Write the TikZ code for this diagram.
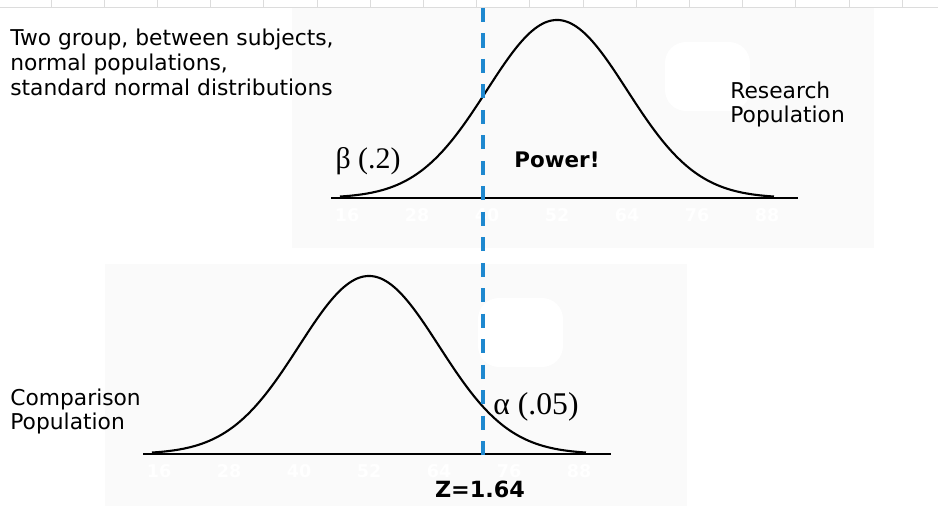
\documentclass[tikz,border=0pt]{standalone}
\usepackage{fontspec}
\setmainfont{DejaVu Sans}
\newfontfamily\greekfont{Liberation Serif}
\definecolor{zline}{HTML}{1E88CF}
\definecolor{panel}{HTML}{FAFAFA}
\definecolor{ruler}{HTML}{DCDCDC}
\tikzset{
	lbl/.style={font=\fontsize{12.4}{14}\selectfont, inner sep=0pt, anchor=base west},
	boldlbl/.style={font=\fontsize{12.2}{14}\selectfont\bfseries, inner sep=0pt},
	greeklbl/.style={font=\fontsize{17}{19}\selectfont\greekfont, inner sep=0pt},
	ticklbl/.style={font=\fontsize{10}{11}\selectfont\bfseries, text=white, inner sep=0pt},
	bell/.style={line width=1.2pt, line join=round},
	axis/.style={line width=1.6pt},
}

\begin{document}
\begin{tikzpicture}[x=0.02cm,y=-0.02cm]
\useasboundingbox (0,0) rectangle (938,506);
%%% ruler strip at the top
	\draw[ruler, line width=.4pt] (0,7) -- (938,7) ;
	\foreach \i in {0,...,16}{
		\draw[ruler, line width=.4pt] (51+53.2*\i,0) -- ++(0,7) ;
	}
%%% panels behind the two curves
	\fill[panel] (292,8) rectangle (874,248) ;
	\fill[panel] (105,264) rectangle (687,506) ;
	\fill[white, rounded corners=12] (665,42) rectangle (750,111) ;
	\fill[white, rounded corners=12] (478,298) rectangle (563,367) ;
%%% research population (top)
	\draw[axis] (331,198) -- (798,198) ;
	\draw[bell] plot[domain=-3.1:3.1, samples=90, smooth] ({557+70*\x},{198-178*exp(-\x*\x/2)}) ;
	\foreach \v [count=\k from -3] in {16,28,40,52,64,76,88}{
		\node[ticklbl] (rt\v) at (557+70*\k,215) {\v} ;
	}
%%% comparison population (bottom)
	\draw[axis] (143,454) -- (611,454) ;
	\draw[bell] plot[domain=-3.1:3.1, samples=90, smooth] ({369+70*\x},{454-178*exp(-\x*\x/2)}) ;
	\foreach \v [count=\k from -3] in {16,28,40,52,64,76,88}{
		\node[ticklbl] (ct\v) at (369+70*\k,471) {\v} ;
	}
%%% critical value
	\coordinate (ztop) at (483,8) ;
	\coordinate (zbot) at (483,456) ;
	\draw[zline, line width=2pt, dash pattern=on 8pt off 6.5pt] (ztop) -- (zbot) ;
%%% labels
	\foreach \t [count=\k] in {{Two group, between subjects,},{normal populations,},{standard normal distributions}}{
		\node[lbl] (intro\k) at (10,21+25*\k) {\t} ;
	}
	\node[lbl] (res1) at (730,99) {Research} ;
	\node[lbl] (res2) at (730,123) {Population} ;
	\node[lbl] (cmp1) at (10,406) {Comparison} ;
	\node[lbl] (cmp2) at (10,430) {Population} ;
	\node[boldlbl] (power) at (557,160) {Power!} ;
	\node[greeklbl] (beta) at (368,161) {β (.2)} ;
	\node[greeklbl, font=\fontsize{18}{20}\selectfont\greekfont] (alpha) at (536,407) {α (.05)} ;
	\node[boldlbl, font=\fontsize{12.7}{14}\selectfont\bfseries] (zval) at (480,489) {Z=1.64} ;
\end{tikzpicture}
\end{document}
